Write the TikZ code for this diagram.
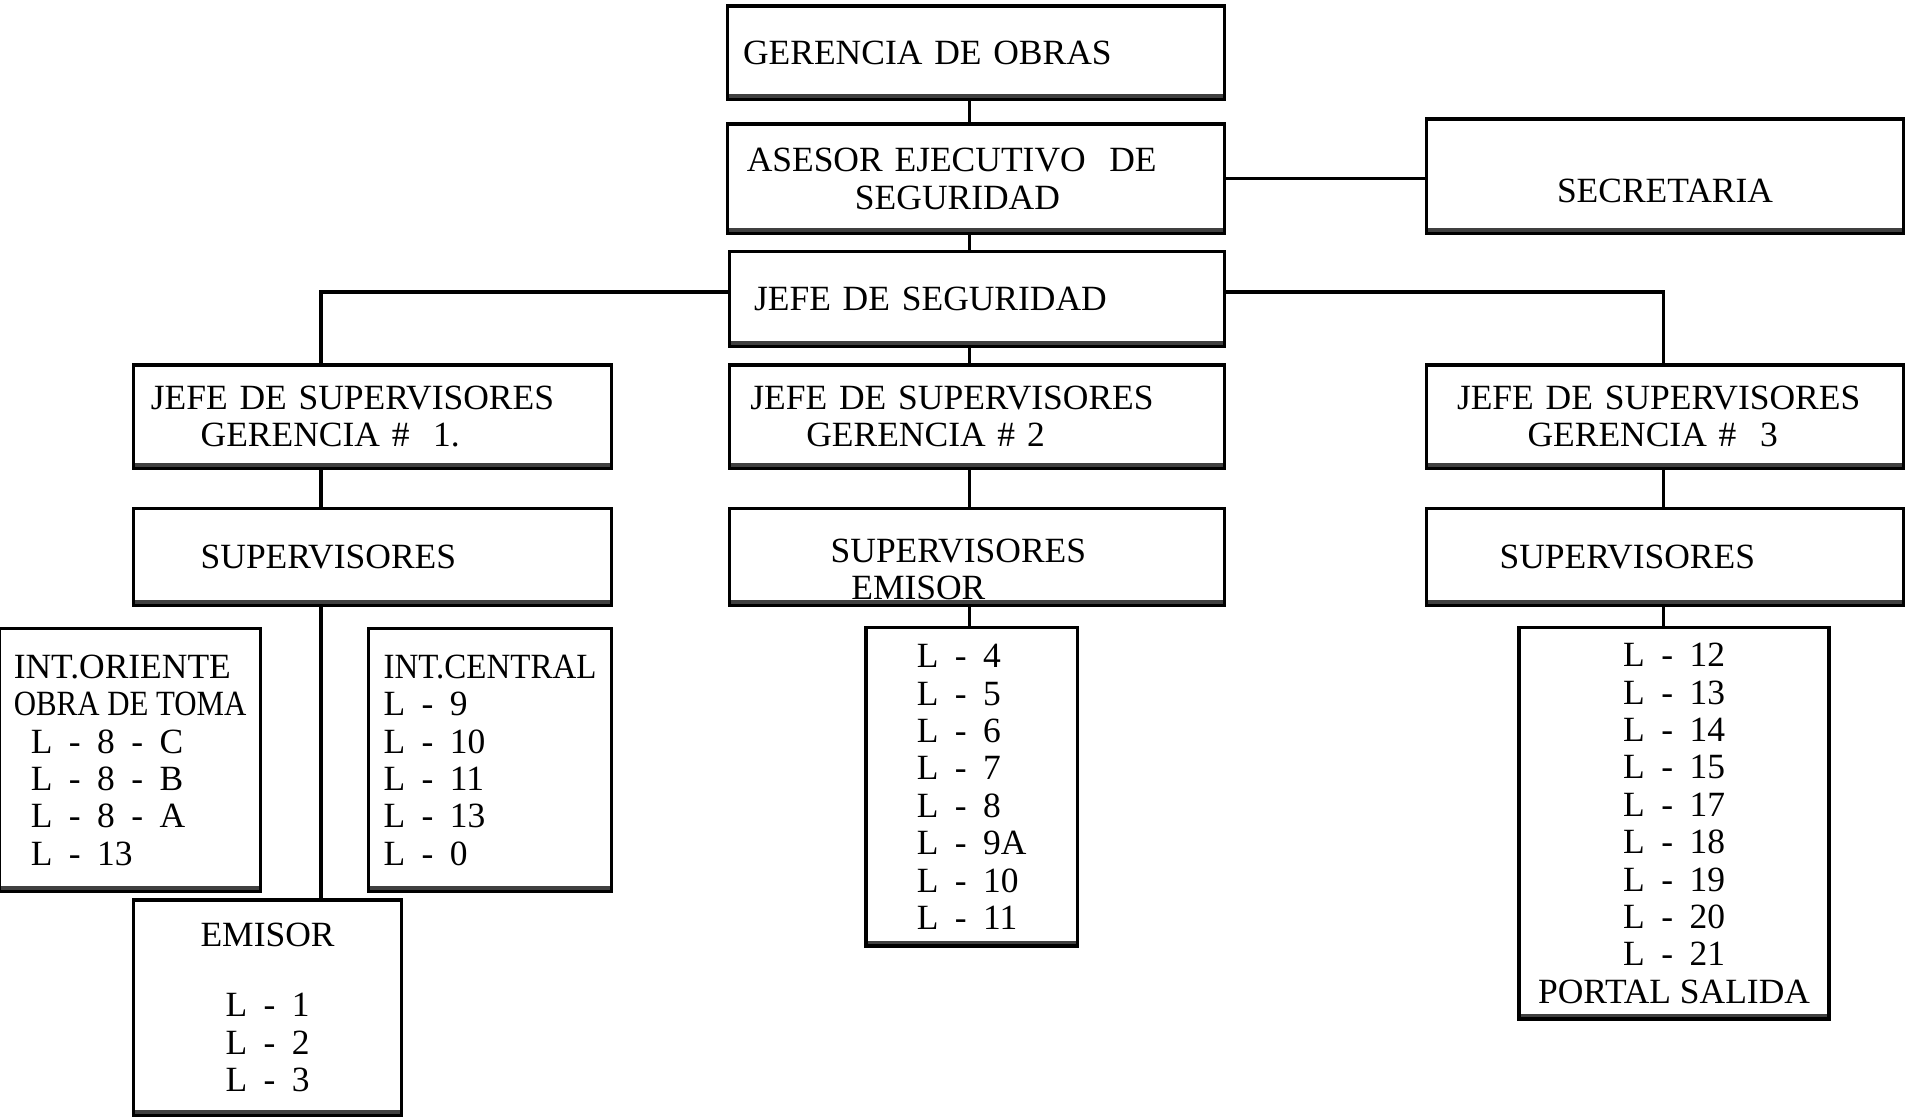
\documentclass[tikz,border=0pt]{standalone}
\usepackage{fontspec}
\setmainfont{Liberation Serif}
\usepackage{graphicx}
\usepackage{tikz}
\newcommand{\guion}{\hspace{1.35mm}-\hspace{1.35mm}}
\tikzset{
  caja/.style={draw, line width=0.8pt, fill=white, inner ysep=0.5mm, font=\fontsize{8.3}{8.75}\selectfont,
    path picture={\draw[line width=2.6pt, black!75] (path picture bounding box.south west) -- (path picture bounding box.south east);}},
  izq/.style={caja, align=left}, cen/.style={caja, align=center},
  linea/.style={line width=0.8pt},
}

\begin{document}
\begin{tikzpicture}[x=0.1mm, y=-0.1mm]
    \useasboundingbox (0,0) rectangle (1568,920);
    \node[izq, minimum width=40.9mm, minimum height=7.7mm, inner xsep=1.3mm, text width=38.3mm] (gerencia) at (802.5,43.5) {GERENCIA DE OBRAS};
    \node[izq, minimum width=40.9mm, minimum height=9.0mm, inner xsep=1.6mm, text width=37.7mm] (asesor) at (802.5,147.0) {ASESOR EJECUTIVO\ \ DE\\\hspace*{8.9mm}SEGURIDAD};
    \node[cen, minimum width=39.2mm, minimum height=9.4mm, text height=4.3mm] (secretaria) at (1369.0,145.0) {SECRETARIA};
    \node[izq, minimum width=40.7mm, minimum height=7.8mm, inner xsep=2.0mm, text width=36.7mm] (jefeseg) at (803.5,246.0) {JEFE DE SEGURIDAD};
    \node[izq, minimum width=39.3mm, minimum height=8.5mm, inner xsep=1.4mm, text width=36.5mm] (js1) at (306.5,342.5) {JEFE DE SUPERVISORES\\\hspace*{4.1mm}GERENCIA \#\ \ 1.};
    \node[izq, minimum width=40.7mm, minimum height=8.5mm, inner xsep=1.7mm, text width=37.3mm] (js2) at (803.5,342.5) {JEFE DE SUPERVISORES\\\hspace*{4.6mm}GERENCIA \# 2};
    \node[izq, minimum width=39.2mm, minimum height=8.5mm, inner xsep=2.5mm, text width=34.2mm] (js3) at (1369.0,342.5) {JEFE DE SUPERVISORES\\\hspace*{5.8mm}GERENCIA \#\ \ 3};
    \node[izq, minimum width=39.3mm, minimum height=8.0mm, inner xsep=5.5mm, text width=28.3mm] (sup1) at (306.5,458.0) {SUPERVISORES};
    \node[izq, minimum width=40.7mm, minimum height=8.0mm, inner xsep=8.3mm, inner ysep=0mm, text width=24.1mm, text height=4.0mm] (sup2) at (803.5,458.0) {SUPERVISORES\\\hspace*{1.7mm}EMISOR};
    \node[izq, minimum width=39.2mm, minimum height=8.0mm, inner xsep=6.0mm, text width=27.2mm] (sup3) at (1369.0,458.0) {SUPERVISORES};
    \node[izq, minimum width=21.2mm, minimum height=21.6mm] (intori) at (107.0,625.0) {INT.ORIENTE\\\scalebox{0.87}[1]{OBRA DE TOMA}\\\hspace*{1.4mm}L\guion 8\guion C\\\hspace*{1.4mm}L\guion 8\guion B\\\hspace*{1.4mm}L\guion 8\guion A\\\hspace*{1.4mm}L\guion 13};
    \node[izq, minimum width=20.0mm, minimum height=21.6mm] (intcen) at (403.0,625.0) {\scalebox{0.93}[1]{INT.CENTRAL}\\L\guion 9\\L\guion 10\\L\guion 11\\L\guion 13\\L\guion 0};
    \node[cen, minimum width=22.0mm, minimum height=17.7mm] (emisor) at (220.0,828.5) {EMISOR\\[2.7mm]L\guion 1\\L\guion 2\\L\guion 3};
    \node[izq, minimum width=17.4mm, minimum height=26.2mm] (lista2) at (799.0,647.0) {L\guion 4\\L\guion 5\\L\guion 6\\L\guion 7\\L\guion 8\\L\guion 9A\\L\guion 10\\L\guion 11};
    \node[cen, minimum width=25.5mm, minimum height=32.2mm] (lista3) at (1376.5,677.0) {L\guion 12\\L\guion 13\\L\guion 14\\L\guion 15\\L\guion 17\\L\guion 18\\L\guion 19\\L\guion 20\\L\guion 21\\PORTAL SALIDA};
    \coordinate (eje) at (797,0);
    \coordinate (ramal) at (264,240);
    \coordinate (ramald) at (1368,240);
    \draw[linea] (eje |- gerencia.south) -- (eje |- asesor.north);
    \draw[linea] (asesor.east) -- (asesor.east -| secretaria.west);
    \draw[linea] (eje |- asesor.south) -- (eje |- jefeseg.north);
    \draw[linea] (jefeseg.west |- ramal) -- (ramal) -- (ramal |- js1.north);
    \draw[linea] (jefeseg.east |- ramald) -- (ramald) -- (ramald |- js3.north);
    \draw[linea] (eje |- jefeseg.south) -- (eje |- js2.north);
    \draw[linea] (ramal |- js1.south) -- (ramal |- sup1.north);
    \draw[linea] (ramal |- sup1.south) -- (ramal |- emisor.north);
    \draw[linea] (eje |- js2.south) -- (eje |- sup2.north);
    \draw[linea] (eje |- sup2.south) -- (eje |- lista2.north);
    \draw[linea] (ramald |- js3.south) -- (ramald |- sup3.north);
    \draw[linea] (ramald |- sup3.south) -- (ramald |- lista3.north);
  \end{tikzpicture}
\end{document}
